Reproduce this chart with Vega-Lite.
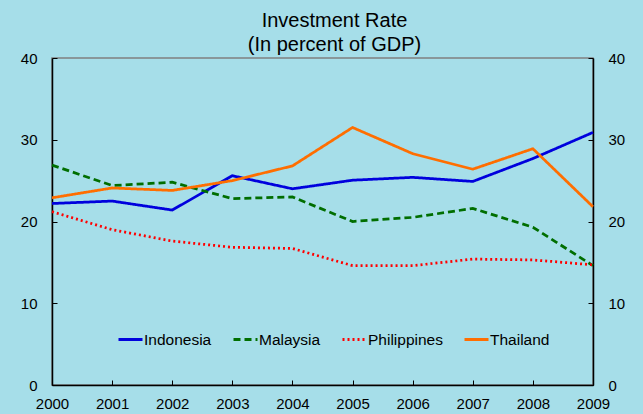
{
  "$schema": "https://vega.github.io/schema/vega-lite/v6.json",
  "width": 541,
  "height": 327,
  "autosize": "none",
  "padding": {"left": 52, "top": 58, "right": 50, "bottom": 29},
  "background": "#a6dee9",
  "title": {
    "text": ["Investment Rate", "(In percent of GDP)"],
    "font": "Liberation Sans",
    "fontSize": 20,
    "fontWeight": "normal",
    "color": "#000000",
    "anchor": "middle",
    "lineHeight": 24,
    "offset": -4,
    "dx": 12
  },
  "config": {
    "view": {"stroke": "#808080", "strokeWidth": 1.5},
    "axis": {
      "labelFont": "Liberation Sans",
      "labelFontSize": 15,
      "labelColor": "#000000",
      "domainColor": "#000000",
      "domainWidth": 1.5,
      "tickColor": "#000000",
      "tickWidth": 1,
      "grid": false,
      "title": null,
      "labelFlush": false,
      "labelOverlap": false
    },
    "legend": {
      "labelFont": "Liberation Sans",
      "labelFontSize": 15.5,
      "labelColor": "#000000"
    }
  },
  "data": {
    "values": [
      {"year": 2000, "country": "Indonesia", "value": 22.2},
      {"year": 2001, "country": "Indonesia", "value": 22.5},
      {"year": 2002, "country": "Indonesia", "value": 21.4},
      {"year": 2003, "country": "Indonesia", "value": 25.6},
      {"year": 2004, "country": "Indonesia", "value": 24.0},
      {"year": 2005, "country": "Indonesia", "value": 25.05},
      {"year": 2006, "country": "Indonesia", "value": 25.4},
      {"year": 2007, "country": "Indonesia", "value": 24.9},
      {"year": 2008, "country": "Indonesia", "value": 27.7},
      {"year": 2009, "country": "Indonesia", "value": 30.9},
      {"year": 2000, "country": "Malaysia", "value": 26.9},
      {"year": 2001, "country": "Malaysia", "value": 24.4},
      {"year": 2002, "country": "Malaysia", "value": 24.8},
      {"year": 2003, "country": "Malaysia", "value": 22.8},
      {"year": 2004, "country": "Malaysia", "value": 23.0},
      {"year": 2005, "country": "Malaysia", "value": 20.0},
      {"year": 2006, "country": "Malaysia", "value": 20.5},
      {"year": 2007, "country": "Malaysia", "value": 21.6},
      {"year": 2008, "country": "Malaysia", "value": 19.3},
      {"year": 2009, "country": "Malaysia", "value": 14.6},
      {"year": 2000, "country": "Philippines", "value": 21.2},
      {"year": 2001, "country": "Philippines", "value": 19.0},
      {"year": 2002, "country": "Philippines", "value": 17.6},
      {"year": 2003, "country": "Philippines", "value": 16.85},
      {"year": 2004, "country": "Philippines", "value": 16.7},
      {"year": 2005, "country": "Philippines", "value": 14.6},
      {"year": 2006, "country": "Philippines", "value": 14.6},
      {"year": 2007, "country": "Philippines", "value": 15.4},
      {"year": 2008, "country": "Philippines", "value": 15.3},
      {"year": 2009, "country": "Philippines", "value": 14.7},
      {"year": 2000, "country": "Thailand", "value": 22.9},
      {"year": 2001, "country": "Thailand", "value": 24.1},
      {"year": 2002, "country": "Thailand", "value": 23.8},
      {"year": 2003, "country": "Thailand", "value": 25.0},
      {"year": 2004, "country": "Thailand", "value": 26.8},
      {"year": 2005, "country": "Thailand", "value": 31.5},
      {"year": 2006, "country": "Thailand", "value": 28.3},
      {"year": 2007, "country": "Thailand", "value": 26.4},
      {"year": 2008, "country": "Thailand", "value": 28.9},
      {"year": 2009, "country": "Thailand", "value": 21.8}
    ]
  },
  "layer": [
    {
      "mark": {"type": "line", "strokeWidth": 2.75, "clip": false},
      "encoding": {
        "x": {
          "field": "year",
          "type": "quantitative",
          "scale": {"domain": [2000, 2009], "nice": false, "zero": false},
          "axis": {
            "orient": "bottom",
            "values": [2000, 2001, 2002, 2003, 2004, 2005, 2006, 2007, 2008, 2009],
            "format": "d",
            "tickSize": -5,
            "labelPadding": 16
          }
        },
        "y": {
          "field": "value",
          "type": "quantitative",
          "scale": {"domain": [0, 40], "nice": false, "zero": true},
          "axis": {
            "orient": "left",
            "values": [0, 10, 20, 30, 40],
            "tickSize": -5,
            "labelPadding": 20
          }
        },
        "color": {
          "field": "country",
          "type": "nominal",
          "scale": {
            "domain": ["Indonesia", "Malaysia", "Philippines", "Thailand"],
            "range": ["#0000dd", "#006e00", "#ff0000", "#ff6e00"]
          },
          "legend": {
            "title": null,
            "orient": "none",
            "legendX": 65,
            "legendY": 268,
            "direction": "horizontal",
            "symbolType": "stroke",
            "symbolSize": 576,
            "symbolStrokeWidth": 3,
            "labelOffset": 0,
            "columnPadding": 15,
            "padding": 0
          }
        },
        "strokeDash": {
          "field": "country",
          "type": "nominal",
          "scale": {
            "domain": ["Indonesia", "Malaysia", "Philippines", "Thailand"],
            "range": [[1, 0], [7, 4], [2, 3], [1, 0]]
          },
          "legend": {
            "title": null,
            "orient": "none",
            "legendX": 65,
            "legendY": 268,
            "direction": "horizontal",
            "symbolType": "stroke",
            "symbolSize": 576,
            "symbolStrokeWidth": 3,
            "labelOffset": 0,
            "columnPadding": 15,
            "padding": 0
          }
        }
      }
    },
    {
      "mark": {"type": "line", "opacity": 0},
      "encoding": {
        "x": {"field": "year", "type": "quantitative"},
        "y": {
          "field": "value",
          "type": "quantitative",
          "axis": {
            "orient": "right",
            "values": [0, 10, 20, 30, 40],
            "tickSize": -5,
            "labelPadding": 20
          }
        },
        "detail": {"field": "country", "type": "nominal"}
      }
    }
  ]
}
